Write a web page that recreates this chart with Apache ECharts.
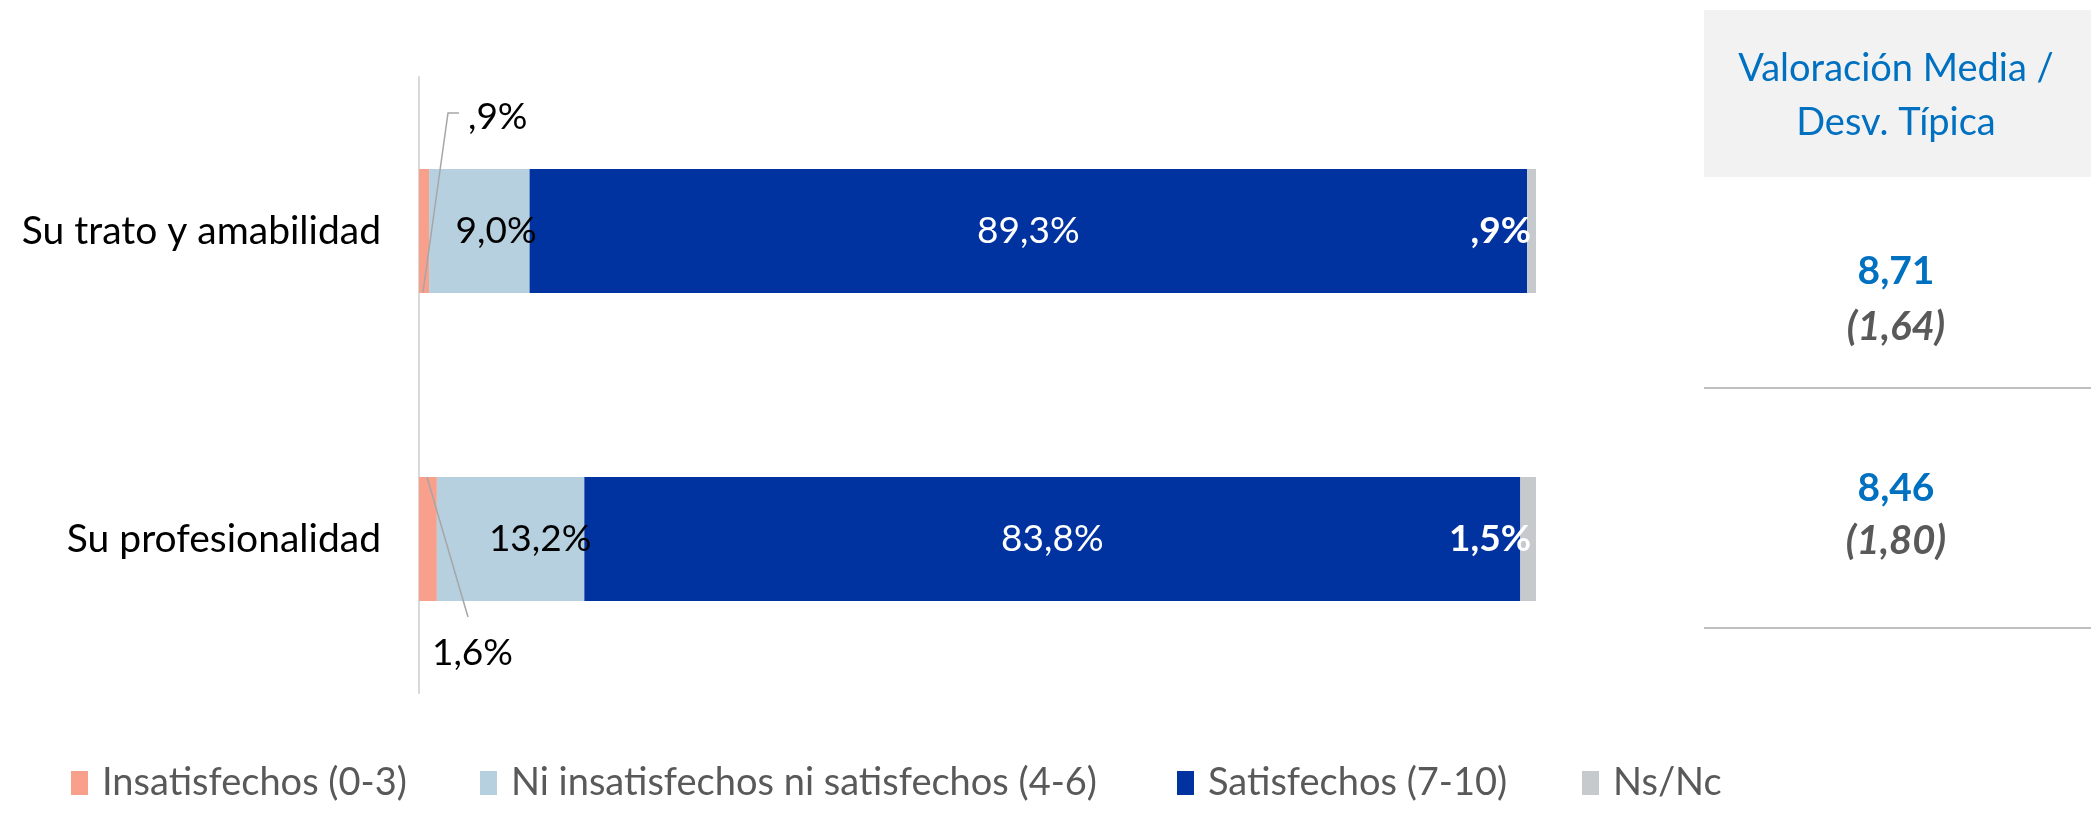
<!DOCTYPE html>
<html><head><meta charset="utf-8">
<script src="https://cdn.jsdelivr.net/npm/echarts@6/dist/echarts.min.js"></script>
<style>html,body{margin:0;padding:0;background:#fff}#c{width:2091px;height:821px}</style>
</head><body><div id="c"></div>
<script>
// ---- data ----
const categories = ['Su trato y amabilidad', 'Su profesionalidad'];
const seriesNames = ['Insatisfechos (0-3)', 'Ni insatisfechos ni satisfechos (4-6)', 'Satisfechos (7-10)', 'Ns/Nc'];
const insatisfechos = [0.9, 1.6];
const niNi = [9.0, 13.2];
const satisfechos = [89.3, 83.8];
const nsnc = [0.9, 1.5];
const medias = [8.71, 8.46];
const desviaciones = [1.64, 1.80];
const tableHeader = ['Valoración Media /', 'Desv. Típica'];

// ---- style ----
const FONT = 'Lato, "Noto Sans", sans-serif';
const BAR_W = 124;
const LBL = 37;
const colors = ['#F8A08C', '#B7D0E0', '#0033A0', '#C7CACD'];
const fmtPct = v => { let s = v.toFixed(1).replace('.', ','); if (s.startsWith('0,')) s = s.slice(1); return s + '%'; };
const fmtNum = v => v.toFixed(2).replace('.', ',');

const chart = echarts.init(document.getElementById('c'));

const legendLeft = [66, 475, 1172, 1577];
const legends = seriesNames.map((n, i) => ({
  data: [n], left: legendLeft[i], top: 759, icon: 'rect', itemWidth: 17, itemHeight: 24,
  selectedMode: false,
  textStyle: { fontSize: 38, color: '#595959', fontFamily: FONT, padding: [0, 0, 0, 9] }
}));

const tableX = 1704, tableCX = 1896;
const rowMeanY = [271, 488], rowSdY = [327, 541];
const graphic = [
  { type: 'rect', left: tableX, top: 10, shape: { width: 2091 - tableX, height: 167 }, style: { fill: '#F2F2F2' }, z: 0 },
  { type: 'text', x: tableCX, y: 69, style: { text: tableHeader[0], fontSize: 38, fontFamily: FONT, fill: '#0070C0', align: 'center', verticalAlign: 'middle' } },
  { type: 'text', x: tableCX, y: 123, style: { text: tableHeader[1], fontSize: 38, fontFamily: FONT, fill: '#0070C0', align: 'center', verticalAlign: 'middle' } },
  { type: 'line', shape: { x1: tableX, y1: 388, x2: 2091, y2: 388 }, style: { stroke: '#BFBFBF', lineWidth: 2 } },
  { type: 'line', shape: { x1: tableX, y1: 628, x2: 2091, y2: 628 }, style: { stroke: '#BFBFBF', lineWidth: 2 } }
];
medias.forEach((m, i) => {
  graphic.push({ type: 'text', x: tableCX, y: rowMeanY[i], style: { text: fmtNum(m), fontSize: 39, fontWeight: 'bold', fontFamily: FONT, fill: '#0070C0', align: 'center', verticalAlign: 'middle' } });
  graphic.push({ type: 'text', x: tableCX, y: rowSdY[i], style: { text: '(' + fmtNum(desviaciones[i]) + ')', fontSize: 40, fontWeight: 'bold', fontStyle: 'italic', fontFamily: FONT, fill: '#595959', align: 'center', verticalAlign: 'middle' } });
});

const baseBar = { type: 'bar', stack: 'total', barWidth: BAR_W, animation: false };

chart.setOption({
  animation: false,
  backgroundColor: '#fff',
  color: colors,
  legend: legends,
  graphic: graphic,
  grid: { left: 419, right: 555, top: 77, bottom: 128, containLabel: false },
  xAxis: { type: 'value', min: 0, max: 100, show: false },
  yAxis: {
    type: 'category', data: categories, inverse: true,
    axisLine: { show: true, lineStyle: { color: '#D9D9D9', width: 2 } },
    axisTick: { show: false }, splitLine: { show: false },
    axisLabel: { fontSize: 39, color: '#000', margin: 38, fontFamily: FONT }
  },
  series: [
    Object.assign({}, baseBar, { name: seriesNames[0], data: insatisfechos, label: { show: false } }),
    Object.assign({}, baseBar, { name: seriesNames[1], data: niNi,
      label: { show: true, position: 'insideRight', offset: [12, 0], color: '#000', fontSize: LBL, fontFamily: FONT, formatter: p => fmtPct(p.value) } }),
    Object.assign({}, baseBar, { name: seriesNames[2], data: satisfechos,
      label: { show: true, position: 'inside', color: '#fff', fontSize: LBL, fontFamily: FONT, formatter: p => fmtPct(p.value) } }),
    Object.assign({}, baseBar, { name: seriesNames[3], data: nsnc,
      label: { show: true, position: 'insideRight', distance: 5, color: '#fff', fontWeight: 'bold', fontSize: LBL, fontFamily: FONT, formatter: p => fmtPct(p.value) } }),
    {
      type: 'custom', name: 'pinkLabels', clip: false, z: 5, silent: true,
      data: insatisfechos.map((v, i) => [v, i]),
      renderItem: (params, api) => {
        const v = api.value(0), ci = api.value(1);
        const c = api.coord([0, ci]);
        const x0 = c[0], top = c[1] - BAR_W / 2, bot = c[1] + BAR_W / 2;
        let pts, tx, ty;
        if (params.dataIndex === 0) {
          pts = [[x0 + 4, bot - 1], [x0 + 29, top - 56], [x0 + 40, top - 56]];
          tx = x0 + 49; ty = top - 52;
        } else {
          pts = [[x0 + 8, top], [x0 + 49, bot + 16]];
          tx = x0 + 13; ty = bot + 52;
        }
        return { type: 'group', children: [
          { type: 'polyline', shape: { points: pts }, style: { stroke: '#A6A6A6', lineWidth: 1.5, fill: null } },
          { type: 'text', x: tx, y: ty, style: { text: fmtPct(v), fontSize: LBL, fontFamily: FONT, fill: '#000', align: 'left', verticalAlign: 'middle' } }
        ]};
      }
    }
  ]
});
</script></body></html>
